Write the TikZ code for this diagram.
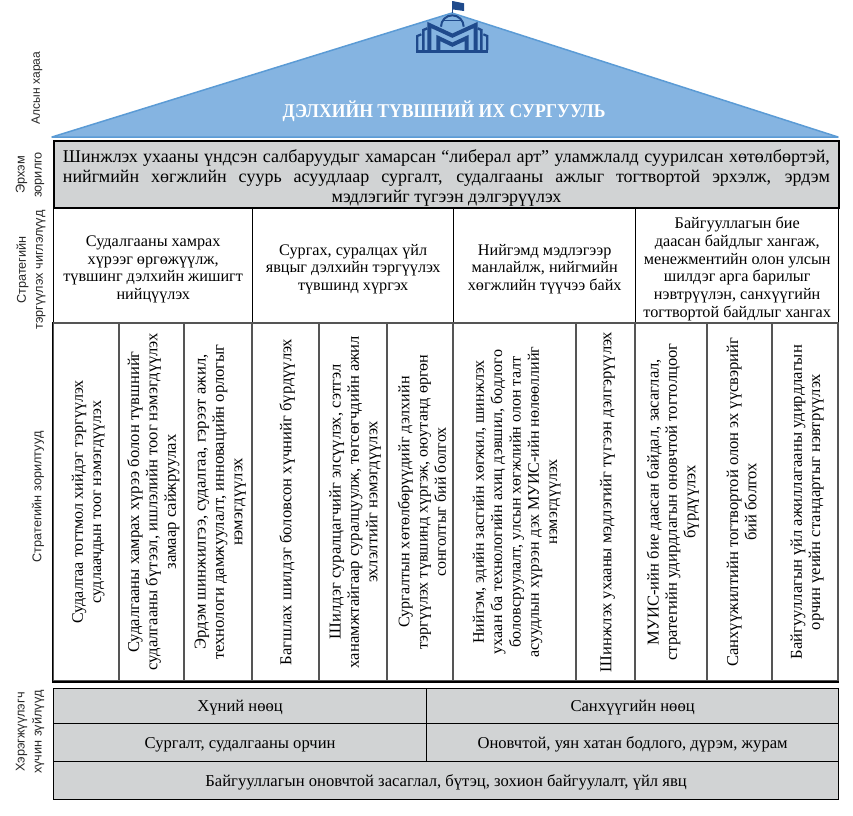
\documentclass[tikz,border=0pt]{standalone}
\usepackage{fontspec}
\setmainfont{Liberation Serif}
\newfontfamily\arialf{Liberation Sans}
\definecolor{roofblue}{HTML}{85B4E1}
\definecolor{roofline}{HTML}{5B9BD5}
\definecolor{panelgray}{HTML}{D1D3D4}
\definecolor{logoblue}{HTML}{1F4A8C}
\definecolor{gridgray}{HTML}{555555}
\newcommand{\gs}{\rule{0pt}{18pt}}
\newcommand{\os}{\rule{0pt}{15.5pt}}
\newcommand{\es}{\rule{0pt}{15pt}}
\tikzset{
  sidelabel/.style={rotate=90,align=center,inner sep=0pt,text=black!85,font=\arialf\fontsize{12.7}{17}\selectfont},
  goalcell/.style={draw=black,line width=1.4pt,inner sep=0pt,align=center,font=\fontsize{16.2}{17.7}\selectfont},
  objcell/.style={draw=gridgray,line width=1.4pt,inner sep=0pt,align=center,rotate=90,font=\fontsize{16.6}{18.3}\selectfont},
  objsmall/.style={objcell,font=\fontsize{16.1}{18.3}\selectfont},
  graycell/.style={draw=black,fill=panelgray,line width=1.2pt,inner sep=0pt,align=center,font=\fontsize{16.6}{18}\selectfont},
  logostroke/.style={draw=logoblue,line join=miter,line cap=butt},
}
\begin{document}
\begin{tikzpicture}[x=1pt,y=-1pt]
\useasboundingbox (0,0) rectangle (853,815);
% roof
\draw[fill=roofblue,draw=roofline,line width=1.5pt,line join=round] (52,137) -- (452,13) -- (838,137) -- cycle;
\node[white,font=\bfseries\fontsize{19.5}{22}\selectfont,inner sep=0pt] (title) at (444,111.5) {\scalebox{.905}[1]{ДЭЛХИЙН ТҮВШНИЙ ИХ СУРГУУЛЬ}};
% logo
\begin{scope}[shift={(410,0)},x=0.3333pt,y=-0.3333pt]
  \draw[logostroke,line width=1.2pt] (127,40) -- (127,2);
  \fill[logoblue] (127,3) -- (162,10) -- (162,33) -- (127,28) -- cycle;
  \draw[logostroke,line width=2pt] (93,80) arc[start angle=180,end angle=360,radius=34];
  \draw[logostroke,line width=1pt] (97,62) -- (157,62);
  \fill[logoblue] (18,158) rectangle (235,150);
  \draw[logostroke,line width=4pt] (58,150) -- (58,75) -- (127,107) -- (197,75) -- (197,150);
  \draw[logostroke,line width=4pt] (85,150) -- (85,114) -- (127,134) -- (170,114) -- (170,150);
  \draw[logostroke,line width=2.4pt] (40,150) -- (40,90) -- (52,85);
  \draw[logostroke,line width=2.4pt] (214,150) -- (214,90) -- (203,85);
  \draw[logostroke,line width=2.2pt] (22,150) -- (22,108) -- (34,103);
  \draw[logostroke,line width=2.2pt] (232,150) -- (232,108) -- (220,103);
\end{scope}
% mission
\node[graycell,line width=1.8pt,minimum width=785pt,minimum height=67pt,anchor=north west,font=\fontsize{18}{20}\selectfont] (mission) at (53,140)
 {\rule{0pt}{21pt}\makebox[767pt][s]{Шинжлэх ухааны үндсэн салбаруудыг хамарсан “либерал арт” уламжлалд суурилсан хөтөлбөртэй,}\\
  \makebox[767pt][s]{нийгмийн хөгжлийн суурь асуудлаар сургалт, судалгааны ажлыг тогтвортой эрхэлж, эрдэм}\\
  мэдлэгийг түгээн дэлгэрүүлэх};
% priorities
\node[goalcell,minimum width=199pt,minimum height=116pt,anchor=north west] (g1) at (53,207) {\gs Судалгааны хамрах\\хүрээг өргөжүүлж,\\түвшинг дэлхийн жишигт\\нийцүүлэх};
\node[goalcell,minimum width=201pt,minimum height=116pt,anchor=north west] (g2) at (252,207) {\gs Сургах, суралцах үйл\\явцыг дэлхийн тэргүүлэх\\түвшинд хүргэх};
\node[goalcell,minimum width=182pt,minimum height=116pt,anchor=north west] (g3) at (453,207) {\gs Нийгэмд мэдлэгээр\\манлайлж, нийгмийн\\хөгжлийн түүчээ байх};
\node[goalcell,minimum width=203pt,minimum height=116pt,anchor=north west] (g4) at (635,207) {\gs Байгууллагын бие\\даасан байдлыг хангаж,\\менежментийн олон улсын\\шилдэг арга барилыг\\нэвтрүүлэн, санхүүгийн\\тогтвортой байдлыг хангах};
% objectives: rotated so width runs vertically
\node[objsmall,minimum width=358pt,minimum height=66pt] (o1) at (86,502) {\os Судалгаа тогтмол хийдэг тэргүүлэх\\судлаачдын тоог нэмэгдүүлэх};
\node[objcell,minimum width=358pt,minimum height=65pt] (o2) at (151.5,502) {\os Судалгааны хамрах хүрээ болон түвшнийг\\судалгааны бүтээл, ишлэлийн тоог нэмэгдүүлэх\\замаар сайжруулах};
\node[objcell,minimum width=358pt,minimum height=68pt] (o3) at (218,502) {\os Эрдэм шинжилгээ, судалгаа, гэрээт ажил,\\технологи дамжуулалт, инновацийн орлогыг\\нэмэгдүүлэх};
\node[objcell,minimum width=358pt,minimum height=67pt] (o4) at (285.5,502) {\os Багшлах шилдэг боловсон хүчнийг бүрдүүлэх};
\node[objcell,minimum width=358pt,minimum height=68pt] (o5) at (353,502) {\os Шилдэг суралцагчийг элсүүлэх, сэтгэл\\ханамжтайгаар суралцуулж, төгсөгчдийн ажил\\эхлэлтийг нэмэгдүүлэх};
\node[objsmall,minimum width=358pt,minimum height=66pt] (o6) at (420,502) {\os Сургалтын хөтөлбөрүүдийг дэлхийн\\тэргүүлэх түвшинд хүргэж, оюутанд өргөн\\сонголтыг бий болгох};
\node[objsmall,minimum width=358pt,minimum height=123pt] (o7) at (514.5,502) {\os Нийгэм, эдийн засгийн хөгжил, шинжлэх\\ухаан ба технологийн ахиц дэвшил, бодлого\\боловсруулалт, улсын хөгжлийн олон талт\\асуудлын хүрээн дэх МУИС-ийн нөлөөллийг\\нэмэгдүүлэх};
\node[objcell,minimum width=358pt,minimum height=59pt] (o8) at (605.5,502) {\os Шинжлэх ухааны мэдлэгийг түгээн дэлгэрүүлэх};
\node[objcell,minimum width=358pt,minimum height=72pt] (o9) at (671,502) {\os МУИС-ийн бие даасан байдал, засаглал,\\стратегийн удирдлагын оновчтой тогтолцоог\\бүрдүүлэх};
\node[objcell,minimum width=358pt,minimum height=65pt] (o10) at (739.5,502) {\os Санхүүжилтийн тогтвортой олон эх үүсвэрийг\\бий болгох};
\node[objcell,minimum width=358pt,minimum height=66pt] (o11) at (805,502) {\os Байгууллагын үйл ажиллагааны удирдлагын\\орчин үеийн стандартыг нэвтрүүлэх};
\draw[line width=2.4pt] (o1.north west) -- (o11.south west);
\draw[line width=1.4pt] (o1.north west) -- (o1.north east);
% enablers
\node[graycell,minimum width=373pt,minimum height=35pt,anchor=north west] (e1) at (53,688) {\es Хүний нөөц};
\node[graycell,minimum width=412pt,minimum height=35pt,anchor=north west] (e2) at (426,688) {\es Санхүүгийн нөөц};
\node[graycell,minimum width=373pt,minimum height=38pt,anchor=north west] (e3) at (53,723) {\es Сургалт, судалгааны орчин};
\node[graycell,minimum width=412pt,minimum height=38pt,anchor=north west] (e4) at (426,723) {\es Оновчтой, уян хатан бодлого, дүрэм, журам};
\node[graycell,minimum width=785pt,minimum height=38pt,anchor=north west] (e5) at (53,761) {\es Байгууллагын оновчтой засаглал, бүтэц, зохион байгуулалт, үйл явц};
% side labels
\node[sidelabel,font=\arialf\fontsize{12}{16}\selectfont] (s1) at (37,88) {Алсын хараа};
\node[sidelabel] (s2) at (30,175) {Эрхэм\\зорилго};
\node[sidelabel] (s3) at (31,270) {Стратегийн\\тэргүүлэх чиглэлүүд};
\node[sidelabel] (s4) at (38,497) {Стратегийн зорилтууд};
\node[sidelabel] (s5) at (30,732) {Хэрэгжүүлэгч\\хүчин зүйлүүд};
\end{tikzpicture}
\end{document}
